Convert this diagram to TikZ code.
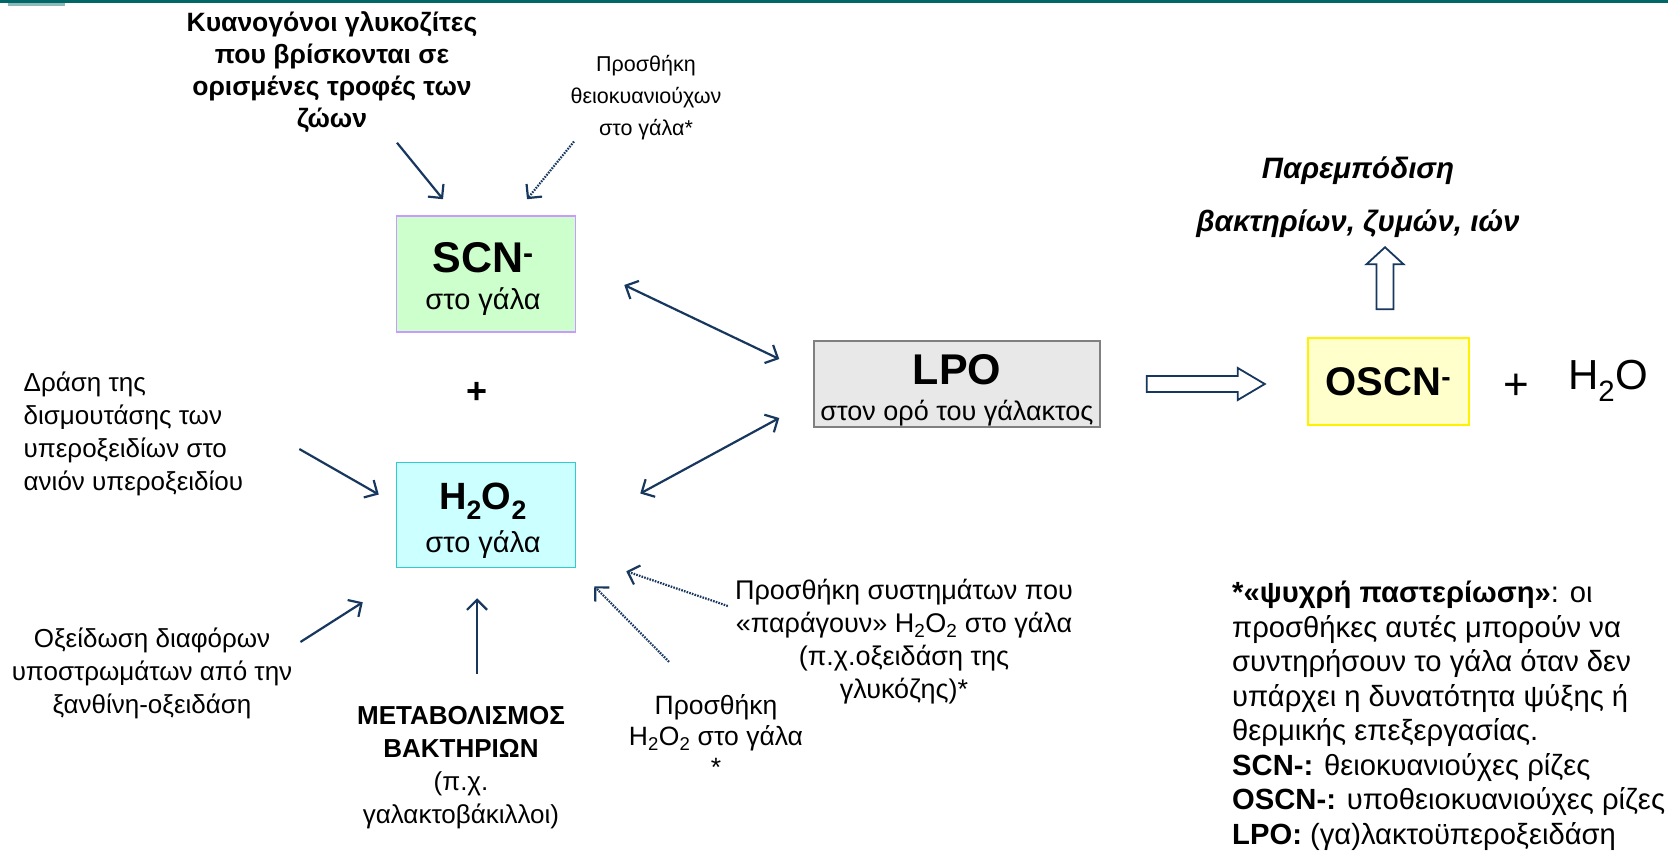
\documentclass[tikz,border=0pt]{standalone}
\usepackage{fontspec}
\setmainfont{Liberation Sans}
\usepackage{xcolor}
\usepackage{tikz}
\usetikzlibrary{arrows.meta,positioning,calc}
\definecolor{arrownavy}{RGB}{23,55,94}
\definecolor{headteal}{RGB}{0,102,102}
\definecolor{scngreen}{RGB}{204,255,204}
\definecolor{scnlilac}{RGB}{204,153,255}
\definecolor{perocyan}{RGB}{204,255,255}
\definecolor{peroteal}{RGB}{51,204,204}
\definecolor{lpogray}{RGB}{232,232,232}
\definecolor{oscnyellow}{RGB}{255,255,204}

\begin{document}
\begin{tikzpicture}[
    x=1pt, y=-1pt,
    box/.style={draw, line width=1.5pt, inner sep=0pt, align=center},
    boxtext/.style={align=center, inner sep=0pt},
    lbl/.style={align=center, inner sep=0pt, font=\fontsize{26}{33}\selectfont},
    arrow/.style={-{Straight Barb[length=10pt,width=20pt]}, line width=2.2pt, arrownavy},
    dotarrow/.style={arrow, dash pattern=on 1.6pt off 1.2pt},
    twoway/.style={{Straight Barb[length=10pt,width=20pt]}-{Straight Barb[length=10pt,width=20pt]}, line width=2.2pt, arrownavy},
    hollow/.style={draw=arrownavy, fill=white, line width=1.8pt, line join=miter}
]
    \useasboundingbox (0,0) rectangle (1675,858);
    % Header rule
    \fill[headteal] (0,0) rectangle (1668,3);
    \fill[headteal!45] (8,3) rectangle (65,6);

    % Main boxes
    \node[box, fill=scngreen, draw=scnlilac, minimum width=179pt, minimum height=116pt] (scn) at (486,274) {};
    \node[boxtext] (scntext) at ($(scn.center)+(-3,5)$)
        {{\fontsize{43}{43}\selectfont\bfseries SCN\textsuperscript{-}}\\[13pt]{\fontsize{29}{29}\selectfont στο γάλα}};
    \node[box, fill=perocyan, draw=peroteal, minimum width=179pt, minimum height=105pt, below=129pt of scn] (hp) {};
    \node[boxtext] (hptext) at ($(hp.center)+(-3,6)$)
        {{\fontsize{38}{38}\selectfont\bfseries H\textsubscript{2}O\textsubscript{2}}\\[10pt]{\fontsize{29}{29}\selectfont στο γάλα}};
    \node[font=\fontsize{36}{36}\selectfont\bfseries] (plusa) at (477,393) {+};
    \node[box, fill=lpogray, draw=gray, minimum width=286pt, minimum height=86pt] (lpo) at (957,384) {};
    \node[boxtext] (lpotext) at ($(lpo.center)+(0,6.5)$)
        {{\fontsize{43}{43}\selectfont\bfseries LPO}\\[14pt]{\fontsize{27}{27}\selectfont στον ορό του γάλακτος}};
    \node[box, fill=oscnyellow, draw=yellow, minimum width=161pt, minimum height=87pt] (oscn) at (1388.5,381.5)
        {\fontsize{40}{40}\selectfont\bfseries OSCN\textsuperscript{-}};
    \node[font=\fontsize{44}{44}\selectfont] (plusb) at (1516,387) {+};
    \node[font=\fontsize{42}{42}\selectfont] (water) at (1608,381) {H\textsubscript{2}O};

    % Sources
    \node[lbl, font=\fontsize{26.5}{32}\selectfont\bfseries] (cyano) at (332,72)
        {Κυανογόνοι γλυκοζίτες\\που βρίσκονται σε\\ορισμένες τροφές των\\ζώων};
    \node[lbl, font=\fontsize{21.5}{32}\selectfont] (thio) at (646,98) {Προσθήκη\\θειοκυανιούχων\\στο γάλα*};
    \node[lbl, align=left, anchor=west] (dismut) at (23.5,434)
        {Δράση της\\δισμουτάσης των\\υπεροξειδίων στο\\ανιόν υπεροξειδίου};
    \node[lbl] (xanth) at (152,673) {Οξείδωση διαφόρων\\υποστρωμάτων από την\\ξανθίνη-οξειδάση};
    \node[lbl] (metab) at (461,768) {\textbf{ΜΕΤΑΒΟΛΙΣΜΟΣ}\\\textbf{ΒΑΚΤΗΡΙΩΝ}\\(π.χ.\\γαλακτοβάκιλλοι)};
    \node[lbl, font=\fontsize{26.5}{31}\selectfont] (hpadd) at (716,736)
        {Προσθήκη\\H\textsubscript{2}O\textsubscript{2} στο γάλα\\*};
    \node[lbl, font=\fontsize{27}{33}\selectfont] (systems) at (904,642)
        {Προσθήκη συστημάτων που\\«παράγουν» H\textsubscript{2}O\textsubscript{2} στο γάλα\\(π.χ.οξειδάση της\\γλυκόζης)*};

    % Result
    \node[lbl, font=\fontsize{29.5}{53}\selectfont\bfseries\itshape] (inhib) at (1358,197)
        {Παρεμπόδιση\\βακτηρίων, ζυμών, ιών};
    \node[lbl, align=left, anchor=west, font=\fontsize{29.2}{34.5}\selectfont] (note) at (1232,716)
        {\textbf{*«ψυχρή παστερίωση»}: οι\\προσθήκες αυτές μπορούν να\\συντηρήσουν το γάλα όταν δεν\\υπάρχει η δυνατότητα ψύξης ή\\θερμικής επεξεργασίας.\\\textbf{SCN-:} θειοκυανιούχες ρίζες\\\textbf{OSCN-:} υποθειοκυανιούχες ρίζες\\\textbf{LPO:} (γα)λακτοϋπεροξειδάση};

    % Feeding arrows
    \draw[arrow] ($(cyano.south)+(65,10)$) -- ($(scn.north)+(-43,-16)$);
    \draw[dotarrow] ($(thio.south)+(-72,1)$) -- ($(scn.north)+(41,-16)$);
    \draw[arrow] ($(dismut.east)+(56,15)$) -- ($(hp.west)+(-17,-20.5)$);
    \draw[arrow] ($(xanth.east)+(8,-31)$) -- ($(hp.south west)+(-33,34)$);
    \draw[arrow] ($(metab.north)+(16,-33)$) -- ($(hp.south)+(-9,30)$);
    \draw[dotarrow] ($(hpadd.north)+(-47,-33)$) -- ($(hp.south east)+(18,18)$);
    \draw[dotarrow] ($(systems.west)+(-7,-36)$) -- ($(hp.south east)+(50,3)$);

    % Enzyme links
    \draw[twoway] ($(scn.east)+(48,11)$) -- ($(lpo.west)+(-34,-25)$);
    \draw[twoway] ($(hp.east)+(64,-21.5)$) -- ($(lpo.west)+(-34,34)$);

    % Hollow arrows
    \draw[hollow] ($(lpo.east)+(46,-8)$) -- ++(91,0) -- ++(0,-8) -- ++(27,16) -- ++(-27,16) -- ++(0,-8) -- ++(-91,0) -- cycle;
    \draw[hollow] ($(oscn.north)+(-12,-28)$) -- ++(0,-45) -- ++(-10,0) -- ++(18.5,-17) -- ++(18.5,17) -- ++(-10,0) -- ++(0,45) -- cycle;
\end{tikzpicture}
\end{document}
